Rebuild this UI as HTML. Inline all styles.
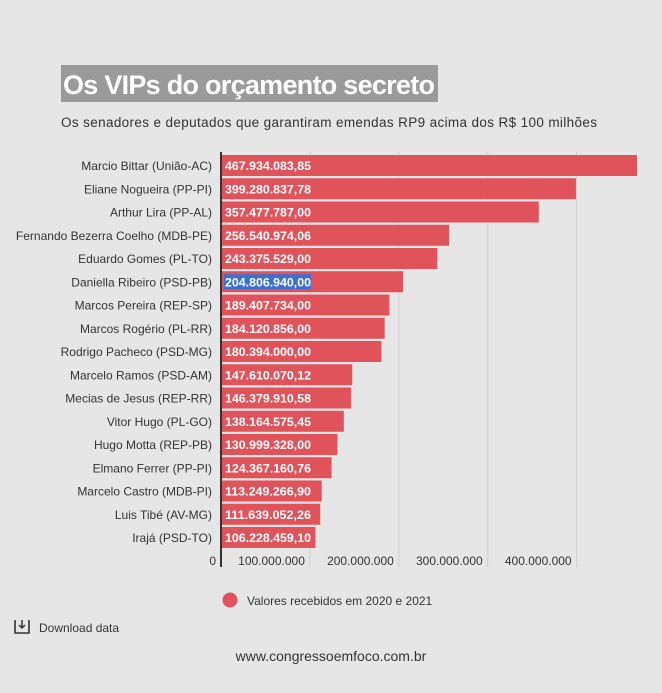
<!DOCTYPE html>
<html><head><meta charset="utf-8">
<style>
body{margin:0;background:#e6e6e6;width:662px;height:693px;overflow:hidden;font-family:"Liberation Sans",sans-serif;}
svg{position:absolute;left:0;top:0}
</style></head>
<body>
<svg id="c" width="662" height="693">
<rect x="61" y="65" width="377" height="37" fill="#9a9a9a"/>
<text x="63" y="94" font-size="27" font-weight="bold" fill="#fff" textLength="372">Os VIPs do orçamento secreto</text>
<text x="61" y="127" font-size="13.5" fill="#333" textLength="536">Os senadores e deputados que garantiram emendas RP9 acima dos R$ 100 milhões</text>
<g id="grid"></g><g id="bars"></g>
<line x1="221" y1="152" x2="221" y2="567" stroke="#333" stroke-width="2"/>
<circle cx="230" cy="600" r="7.5" fill="#e0535a"/>
<text x="247" y="605" font-size="12" fill="#333">Valores recebidos em 2020 e 2021</text>
<g><path d="M16 621h-1v12h14v-12h-1" fill="none" stroke="#333" stroke-width="1.6"/><path d="M22 620v8m-3-3l3 3 3-3" fill="none" stroke="#333" stroke-width="1.5"/></g>
<text x="39" y="632" font-size="12" fill="#333">Download data</text>
<text x="331" y="661" font-size="14" fill="#333" text-anchor="middle">www.congressoemfoco.com.br</text>
</svg>
<script>
const categories=["Marcio Bittar (União-AC)","Eliane Nogueira (PP-PI)","Arthur Lira (PP-AL)","Fernando Bezerra Coelho (MDB-PE)","Eduardo Gomes (PL-TO)","Daniella Ribeiro (PSD-PB)","Marcos Pereira (REP-SP)","Marcos Rogério (PL-RR)","Rodrigo Pacheco (PSD-MG)","Marcelo Ramos (PSD-AM)","Mecias de Jesus (REP-RR)","Vitor Hugo (PL-GO)","Hugo Motta (REP-PB)","Elmano Ferrer (PP-PI)","Marcelo Castro (MDB-PI)","Luis Tibé (AV-MG)","Irajá (PSD-TO)"];
const values=[467934083.85,399280837.78,357477787.00,256540974.06,243375529.00,204806940.00,189407734.00,184120856.00,180394000.00,147610070.12,146379910.58,138164575.45,130999328.00,124367160.76,113249266.90,111639052.26,106228459.10];
const valueLabels=["467.934.083,85","399.280.837,78","357.477.787,00","256.540.974,06","243.375.529,00","204.806.940,00","189.407.734,00","184.120.856,00","180.394.000,00","147.610.070,12","146.379.910,58","138.164.575,45","130.999.328,00","124.367.160,76","113.249.266,90","111.639.052,26","106.228.459,10"];
const ticks=[0,100000000,200000000,300000000,400000000];
const tickLabels=["0","100.000.000","200.000.000","300.000.000","400.000.000"];
const NS="http://www.w3.org/2000/svg";
const x=v=>221+v*(637-221)/467934083.85;
const y=i=>155+i*23.25;
function mk(t,a,p){const e=document.createElementNS(NS,t);for(const k in a)e.setAttribute(k,a[k]);p.appendChild(e);return e;}
const g=document.getElementById('grid'),b=document.getElementById('bars');
ticks.forEach((t,i)=>{
  if(i>0){const l=mk('line',{x1:x(t),x2:x(t),y1:152,y2:567,stroke:'#cfcfcf','stroke-width':1},g);
  
  }
  const tx=mk('text',{x:x(t)-5,y:565,'font-size':12,fill:'#333','text-anchor':'end'},g);
  tx.textContent=tickLabels[i];
  
  
});
categories.forEach((c,i)=>{
  const r=mk('rect',{x:222,y:y(i),width:x(values[i])-222,height:21,fill:'#e0535a'},b);
  
  
  const lb=mk('text',{x:212,y:y(i)+15,'font-size':12,fill:'#333','text-anchor':'end'},b);
  lb.textContent=c;
  
  
  if(i===5){const h=mk('rect',{x:224,y:y(i)+3,width:87,height:15,fill:'#3b6fd0'},b);
  
  }
  const v=mk('text',{x:225,y:y(i)+15,'font-size':12,'font-weight':'bold',fill:'#fff',textLength:86,lengthAdjust:'spacingAndGlyphs'},b);
  v.textContent=valueLabels[i];
  
  
});
</script>
</body></html>
